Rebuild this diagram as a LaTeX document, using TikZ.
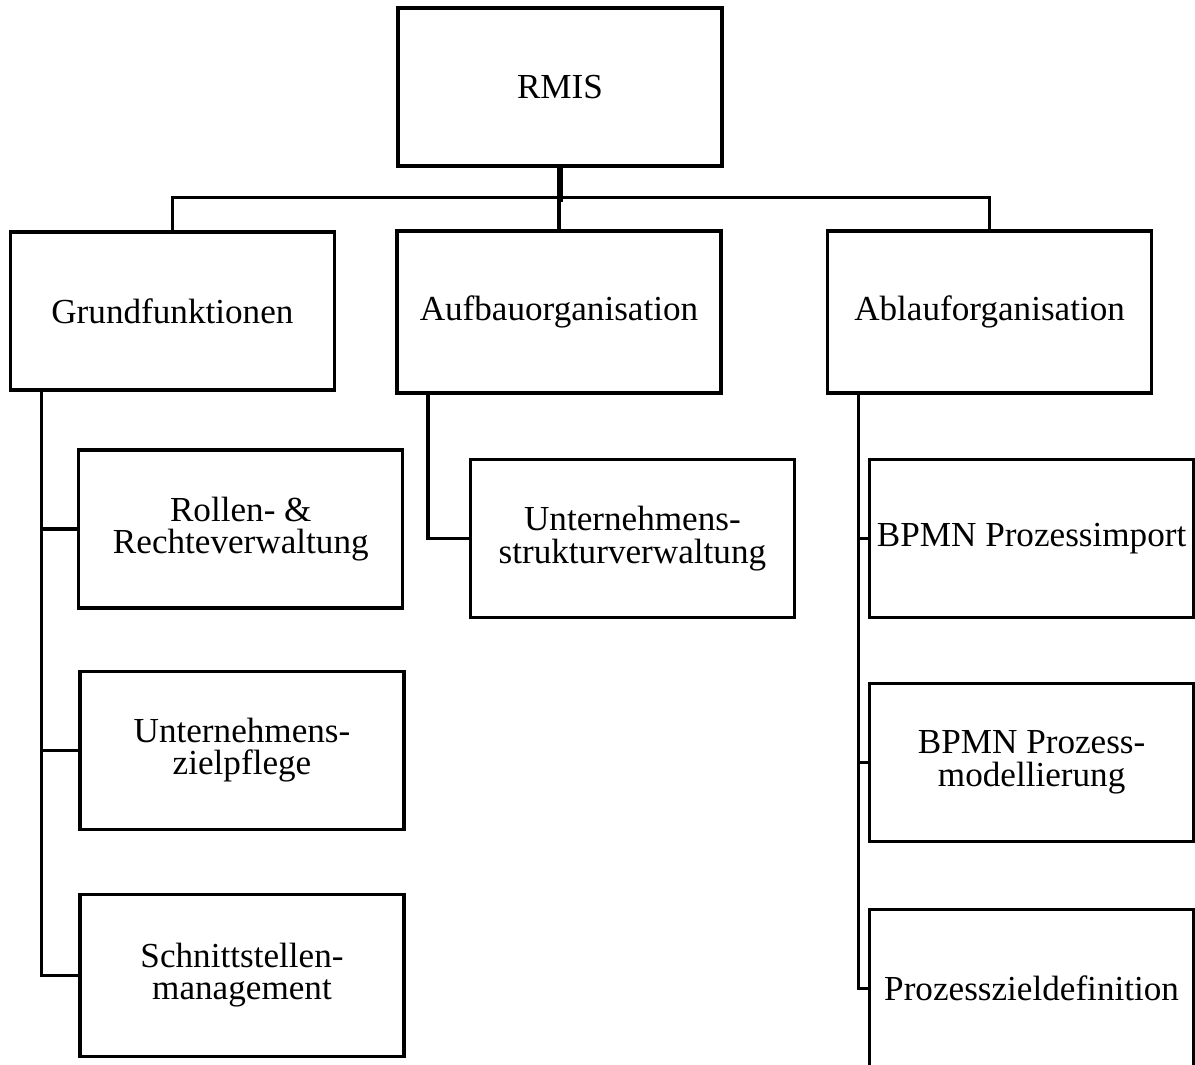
\documentclass[tikz,border=0pt]{standalone}
\usepackage{fontspec}
\setmainfont{Liberation Serif}

\begin{document}
\begin{tikzpicture}[
        box/.style={draw, line width=2.4pt, minimum width=8.1cm, minimum height=3.95cm,
            inner sep=0pt, align=center, font=\fontsize{25}{23}\selectfont},
        link/.style={line width=2.4pt}
    ]
            \useasboundingbox (0,0) rectangle (29.875,26.625);
            \node[box] (rmis) at (14,24.45) {RMIS};
            \node[box] (grund) at (4.31,18.85) {Grundfunktionen};
            \node[box, minimum height=4.05cm] (aufbau) at (13.975,18.825) {Aufbauorganisation};
            \node[box, minimum height=4.05cm] (ablauf) at (24.74,18.825) {Ablauforganisation};
            \node[box] (rollen) at (6.02,13.4) {Rollen- \& \\ Rechteverwaltung};
            \node[box] (zielpfl) at (6.05,7.87) {Unternehmens-\\zielpflege};
            \node[box, minimum height=4.05cm] (schnitt) at (6.05,2.24) {Schnittstellen-\\management};
            \node[box] (struktur) at (15.81,13.16) {Unternehmens-\\strukturverwaltung};
            \node[box] (import) at (25.79,13.16) {BPMN Prozessimport};
            \node[box] (modell) at (25.79,7.57) {BPMN Prozess-\\modellierung};
            \node[box] (zieldef) at (25.79,1.92) {Prozesszieldefinition};
            \draw [line width=4pt] (rmis.south) -- ++(0,-0.85);
            \draw [link] (grund.north) -- ++(0,0.82) -| (ablauf.north);
            \draw [link] (aufbau.north) -- ++(0,0.82);
            \draw [link] ([xshift=0.82cm]grund.south west) |- (rollen.west);
            \draw [link] ([xshift=0.82cm]grund.south west) |- (zielpfl.west);
            \draw [link] ([xshift=0.82cm]grund.south west) |- (schnitt.west);
            \draw [link] ([xshift=0.82cm]aufbau.south west) |- (struktur.west);
            \draw [link] ([xshift=0.82cm]ablauf.south west) |- (import.west);
            \draw [link] ([xshift=0.82cm]ablauf.south west) |- (modell.west);
            \draw [link] ([xshift=0.82cm]ablauf.south west) |- (zieldef.west);
        \end{tikzpicture}
\end{document}
